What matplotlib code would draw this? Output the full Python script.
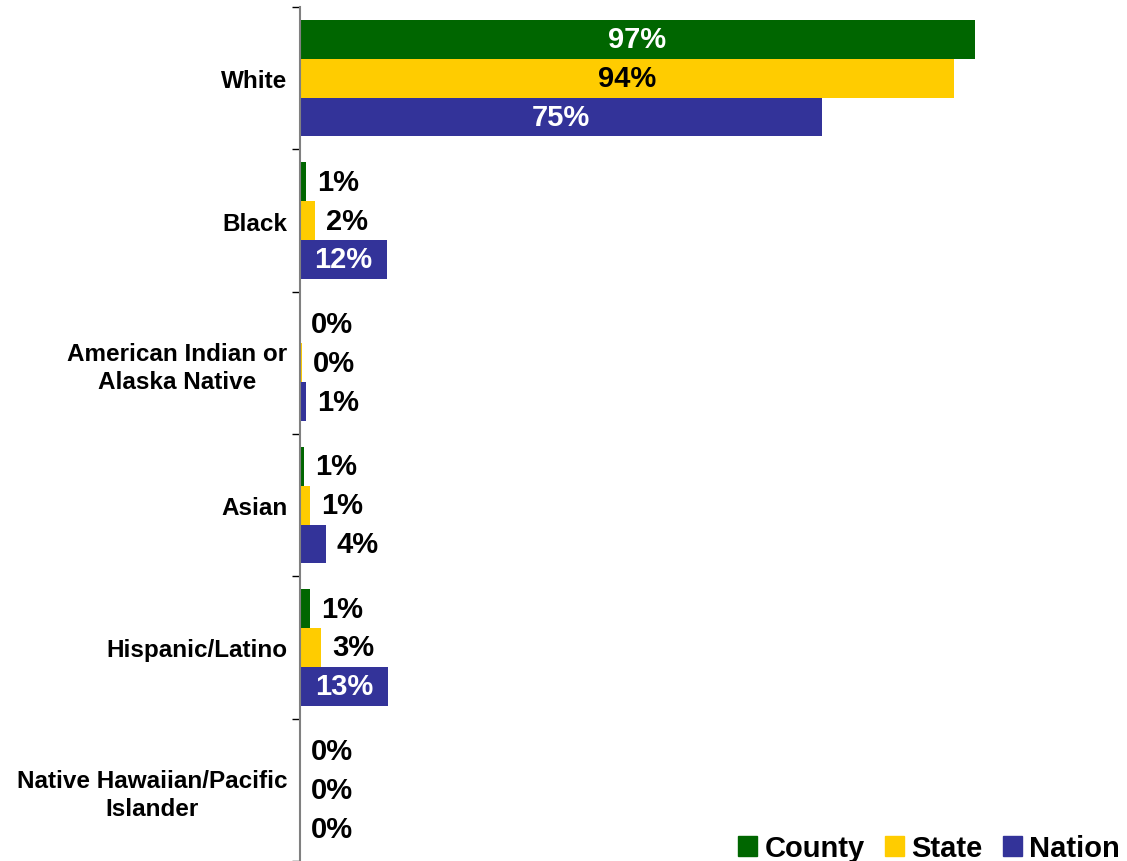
import matplotlib.pyplot as plt
import numpy as np
from matplotlib.patches import Patch

plt.rcParams['font.family'] = ['Liberation Sans', 'DejaVu Sans']

categories = ["White", "Black", "American Indian or\nAlaska Native", "Asian",
              "Hispanic/Latino", "Native Hawaiian/Pacific\nIslander"]
series = ["County", "State", "Nation"]
county = [97.0, 0.8, 0.0, 0.6, 1.4, 0.0]
state = [94.0, 2.1, 0.3, 1.4, 3.0, 0.0]
nation = [75.0, 12.5, 0.9, 3.7, 12.6, 0.0]
colors = ["#006600", "#FFCC00", "#333399"]
inside_text = ["white", "black", "white"]

fig = plt.figure(figsize=(11.27, 8.62), dpi=100)
ax = fig.add_axes([300 / 1127, 0.0, 696 / 1127, 854 / 862])

n = len(categories)
y = np.arange(n)
h = 0.272
for k, (vals, col, tc) in enumerate(zip([county, state, nation], colors, inside_text)):
    pos = y + (k - 1) * h
    ax.barh(pos, vals, height=h, color=col, edgecolor="none")
    for p, v in zip(pos, vals):
        lab = f"{round(v):d}%"
        if v > 10:
            ax.text(v / 2, p, lab, ha="center", va="center", color=tc,
                    fontsize=21, fontweight="bold")
        else:
            ax.annotate(lab, (v, p), xytext=(8, 0), textcoords="offset points",
                        ha="left", va="center", color="black",
                        fontsize=21, fontweight="bold")

ax.set_xlim(0, 100)
ax.set_ylim(n - 0.5, -0.5)
for s in ["top", "right", "bottom"]:
    ax.spines[s].set_visible(False)
ax.spines["left"].set_color("#808080")
ax.spines["left"].set_linewidth(1.5)
ax.set_xticks([])

ax.set_yticks(np.arange(n + 1) - 0.5)
ax.set_yticklabels([])
ax.tick_params(axis="y", which="major", length=6, width=1, color="black")
ax.set_yticks(y, minor=True)
ax.set_yticklabels(categories, minor=True, fontsize=17.5, fontweight="bold")
ax.tick_params(axis="y", which="minor", length=0, pad=9)
for t in ax.get_yticklabels(minor=True):
    t.set_multialignment("center")
    t.set_linespacing(1.25)

handles = [Patch(color=c, label=s) for c, s in zip(colors, series)]
fig.legend(handles=handles, loc="lower right", bbox_to_anchor=(1.017, -0.032),
           ncol=3, frameon=False, prop={"size": 21, "weight": "bold"},
           handlelength=0.65, handleheight=0.65, handletextpad=0.25,
           columnspacing=0.7)

fig.savefig("out.png", dpi=100)
